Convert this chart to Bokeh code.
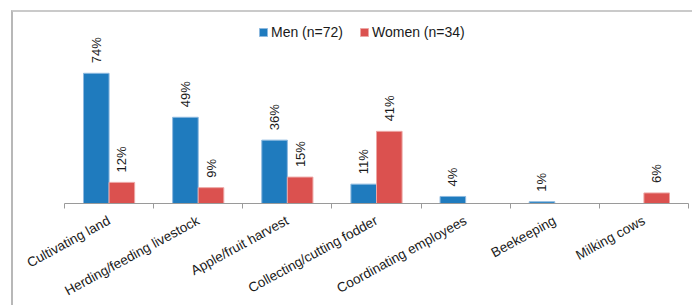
import math
from bokeh.plotting import figure
from bokeh.models import ColumnDataSource, FixedTicker, Legend, LegendItem, Range1d
from bokeh.core.properties import value
from bokeh.embed import file_html
from bokeh.resources import INLINE

categories = ["Cultivating land", "Herding/feeding livestock", "Apple/fruit harvest",
              "Collecting/cutting fodder", "Coordinating employees", "Beekeeping", "Milking cows"]
men = [74, 49, 36, 11, 4, 1, 0]
women = [12, 9, 15, 41, 0, 0, 6]
series_names = ["Men (n=72)", "Women (n=34)"]

BLUE = "#1F7BBE"
BLUE_EDGE = "#8DB9DF"
RED = "#DB514F"
RED_EDGE = "#EDA6A4"
FONT = "Liberation Sans"
BAR_W = 0.287

p = figure(width=681, height=295, output_backend="svg", toolbar_location=None,
           x_range=Range1d(-0.5, len(categories) - 0.5), y_range=Range1d(0, 104),
           min_border_left=51, min_border_right=6, min_border_top=8, min_border_bottom=104,
           y_axis_location=None)
p.margin = (10, 0, 0, 11)
p.styles = {"border-top": "2px solid #cacaca", "border-left": "2px solid #b8b8b8"}
p.outline_line_color = None
p.xgrid.grid_line_color = None
p.ygrid.grid_line_color = None


def make_src(vals, offset):
    xs, ys, labels = [], [], []
    for i, v in enumerate(vals):
        if v > 0:
            xs.append(i + offset)
            ys.append(v)
            labels.append(f"{v}%")
    return ColumnDataSource(dict(x=xs, top=ys, label=labels))


src_m = make_src(men, -BAR_W / 2)
src_w = make_src(women, BAR_W / 2)

r_m = p.vbar(x="x", top="top", bottom=0, width=BAR_W, source=src_m,
             fill_color=BLUE, line_color=BLUE_EDGE, line_width=1)
r_w = p.vbar(x="x", top="top", bottom=0, width=BAR_W, source=src_w,
             fill_color=RED, line_color=RED_EDGE, line_width=1)

for src in (src_m, src_w):
    p.text(x="x", y="top", text="label", source=src, angle=math.pi / 2,
           y_offset=-10, text_align="left", text_baseline="middle",
           text_font=value(FONT), text_font_size="13px", text_color="#1a1a1a")

ax = p.xaxis[0]
ax.ticker = FixedTicker(ticks=list(range(len(categories))),
                        minor_ticks=[i - 0.5 for i in range(len(categories) + 1)])
ax.major_label_overrides = {i: c for i, c in enumerate(categories)}
ax.major_tick_out = 0
ax.major_tick_in = 0
ax.minor_tick_out = 5
ax.minor_tick_in = 0
ax.minor_tick_line_color = "#9a9a9a"
ax.axis_line_color = "#9a9a9a"
ax.major_label_orientation = 0.5
ax.major_label_text_font = FONT
ax.major_label_text_font_size = "13.5px"
ax.major_label_text_color = "#1a1a1a"
ax.major_label_standoff = 11

legend = Legend(items=[LegendItem(label=series_names[0], renderers=[r_m]),
                       LegendItem(label=series_names[1], renderers=[r_w])],
                orientation="horizontal", location=(194, 163),
                padding=0, margin=0, spacing=16, label_standoff=3,
                glyph_width=10, glyph_height=10,
                label_text_font=FONT, label_text_font_size="14px", label_text_color="#1a1a1a",
                background_fill_alpha=0, border_line_color=None)
p.add_layout(legend, "center")

open("out.html", "w").write(file_html(p, INLINE))
